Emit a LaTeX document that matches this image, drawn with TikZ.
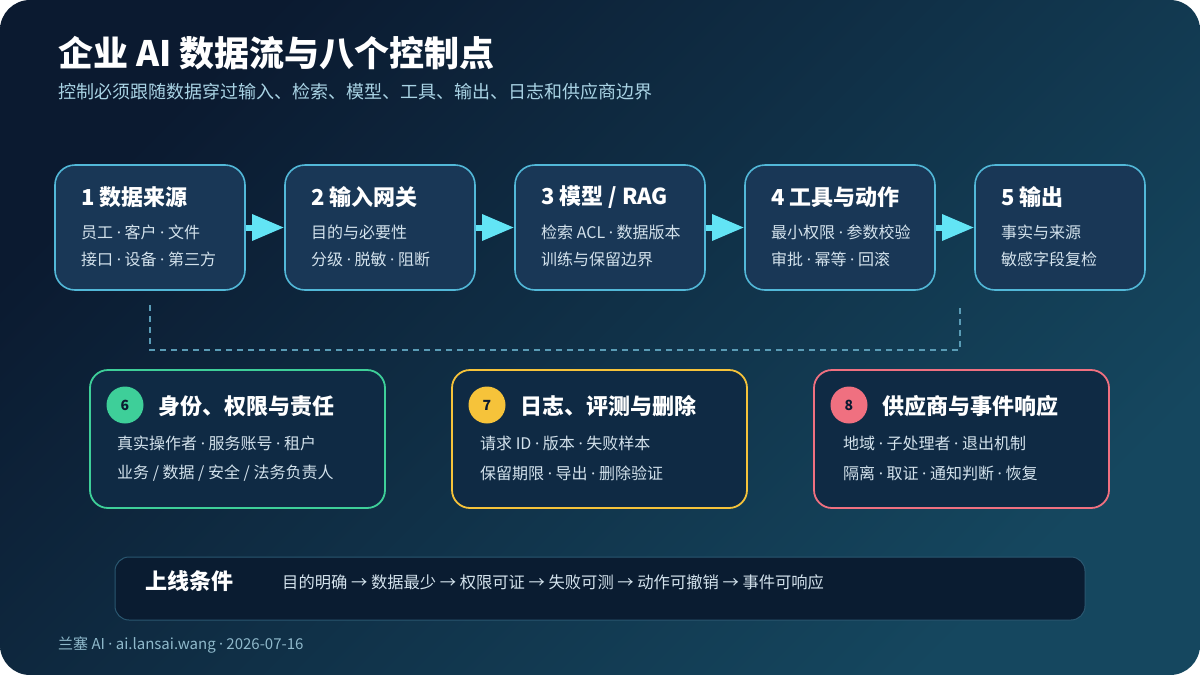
\documentclass[tikz,border=0pt]{standalone}
\usepackage{fontspec}
\setmainfont{Noto Sans CJK SC}
\newfontfamily\latinfont{Noto Sans}
\newcommand{\sepdot}{{\latinfont ·}}
\usetikzlibrary{arrows.meta}

\definecolor{bgA}{HTML}{0B1A30}
\definecolor{bgB}{HTML}{15475F}
\definecolor{boxfill}{HTML}{193756}
\definecolor{boxline}{HTML}{52B8D8}
\definecolor{ctlfill}{HTML}{0F2A44}
\definecolor{flow}{HTML}{62E4F5}
\definecolor{txtsoft}{HTML}{D3E2EC}
\definecolor{subtxt}{HTML}{A9D3E4}
\definecolor{dashc}{HTML}{5A9CB6}
\definecolor{okgreen}{HTML}{3ECF99}
\definecolor{warnyel}{HTML}{F6C33A}
\definecolor{alertred}{HTML}{F07080}
\definecolor{barfill}{HTML}{0A1C31}
\definecolor{barline}{HTML}{2A5770}
\definecolor{foot}{HTML}{8FB9CB}

\tikzset{
  stage/.style={draw=boxline, line width=1.6pt, fill=boxfill, rounded corners=20pt,
    minimum width=#1, minimum height=125pt, inner sep=0pt},
  ctrl/.style={draw=#1, line width=1.8pt, fill=ctlfill, rounded corners=18pt,
    minimum width=295pt, minimum height=138pt, inner sep=0pt},
  badge/.style={circle, fill=#1, minimum size=37pt, inner sep=0pt, text=bgA,
    font=\fontsize{14}{16}\selectfont\bfseries},
  head/.style={anchor=west, inner sep=0pt, text=white, font=\fontsize{22}{26}\selectfont\bfseries},
  item/.style={anchor=west, inner sep=0pt, text=txtsoft, font=\fontsize{16}{19}\selectfont},
  flowarrow/.style={-{Triangle[length=32pt,width=25pt]}, line width=6pt, draw=flow},
}

\begin{document}
\begin{tikzpicture}[x=1pt, y=-1pt]
    \useasboundingbox (0,0) rectangle (1200,675);
    \fill[white] (0,0) rectangle (1200,675);
    \shade[rounded corners=30pt, top color=bgA, bottom color=bgB, shading angle=45]
        (0,0) rectangle (1200,675);

    % title
    \node[anchor=west, inner sep=0pt, text=white, font=\fontsize{35}{40}\selectfont\bfseries]
        (title) at (58,53) {企业 AI 数据流与八个控制点};
    \node[anchor=west, inner sep=0pt, text=subtxt, font=\fontsize{18}{22}\selectfont]
        (subtitle) at (58,92) {控制必须跟随数据穿过输入、检索、模型、工具、输出、日志和供应商边界};

    % data flow
    \node[stage=190pt] (b1) at (150,227.5) {};
    \node[stage=190pt] (b2) at (380,227.5) {};
    \node[stage=190pt] (b3) at (610,227.5) {};
    \node[stage=190pt] (b4) at (840,227.5) {};
    \node[stage=170pt] (b5) at (1060,227.5) {};
    \draw[flowarrow] (b1) -- (b2);
    \draw[flowarrow] (b2) -- (b3);
    \draw[flowarrow] (b3) -- (b4);
    \draw[flowarrow] (b4) -- (b5);

    \node[head] (h1) at (81,197) {1 数据来源};
    \node[item] (i1a) at (81,232) {员工 \sepdot{} 客户 \sepdot{} 文件};
    \node[item] (i1b) at (81,259) {接口 \sepdot{} 设备 \sepdot{} 第三方};
    \node[head] (h2) at (311,197) {2 输入网关};
    \node[item] (i2a) at (311,232) {目的与必要性};
    \node[item] (i2b) at (311,259) {分级 \sepdot{} 脱敏 \sepdot{} 阻断};
    \node[head] (h3) at (541,197) {3 模型 / RAG};
    \node[item] (i3a) at (541,232) {检索 ACL \sepdot{} 数据版本};
    \node[item] (i3b) at (541,259) {训练与保留边界};
    \node[head] (h4) at (771,197) {4 工具与动作};
    \node[item] (i4a) at (771,232) {最小权限 \sepdot{} 参数校验};
    \node[item] (i4b) at (771,259) {审批 \sepdot{} 幂等 \sepdot{} 回滚};
    \node[head] (h5) at (1001,197) {5 输出};
    \node[item] (i5a) at (1001,232) {事实与来源};
    \node[item] (i5b) at (1001,259) {敏感字段复检};

    % controls across the flow
    \coordinate (dA) at (150,305);
    \coordinate (dB) at (150,350);
    \coordinate (dC) at (960,350);
    \coordinate (dD) at (960,305);
    \draw[dashc, line width=1.5pt, dash pattern=on 6pt off 5pt] (dA) -- (dB) -- (dC) -- (dD);

    \node[ctrl=okgreen] (c6) at (237.5,439) {};
    \node[badge=okgreen] (n6) at (125,405) {6};
    \node[head] (h6) at (158,406) {身份、权限与责任};
    \node[item] (i6a) at (117,443) {真实操作者 \sepdot{} 服务账号 \sepdot{} 租户};
    \node[item] (i6b) at (117,473) {业务 / 数据 / 安全 / 法务负责人};

    \node[ctrl=warnyel] (c7) at (599.5,439) {};
    \node[badge=warnyel] (n7) at (487,405) {7};
    \node[head] (h7) at (520,406) {日志、评测与删除};
    \node[item] (i7a) at (480,443) {请求 ID \sepdot{} 版本 \sepdot{} 失败样本};
    \node[item] (i7b) at (480,473) {保留期限 \sepdot{} 导出 \sepdot{} 删除验证};

    \node[ctrl=alertred] (c8) at (961.5,439) {};
    \node[badge=alertred] (n8) at (849,405) {8};
    \node[head] (h8) at (882,406) {供应商与事件响应};
    \node[item] (i8a) at (843,443) {地域 \sepdot{} 子处理者 \sepdot{} 退出机制};
    \node[item] (i8b) at (843,473) {隔离 \sepdot{} 取证 \sepdot{} 通知判断 \sepdot{} 恢复};

    % go-live bar
    \node[draw=barline, line width=1pt, fill=barfill, rounded corners=14pt,
        minimum width=970pt, minimum height=63pt] (bar) at (600,588.5) {};
    \node[head] (golive) at (145,581) {上线条件};
    \node[item, font=\fontsize{16.3}{19}\selectfont] (steps) at (282,582)
        {目的明确 → 数据最少 → 权限可证 → 失败可测 → 动作可撤销 → 事件可响应};

    \node[anchor=west, inner sep=0pt, text=foot, font=\fontsize{15}{18}\selectfont]
        (footer) at (58,645) {兰塞 AI \sepdot{} ai.lansai.wang \sepdot{} 2026-07-16};
\end{tikzpicture}
\end{document}
